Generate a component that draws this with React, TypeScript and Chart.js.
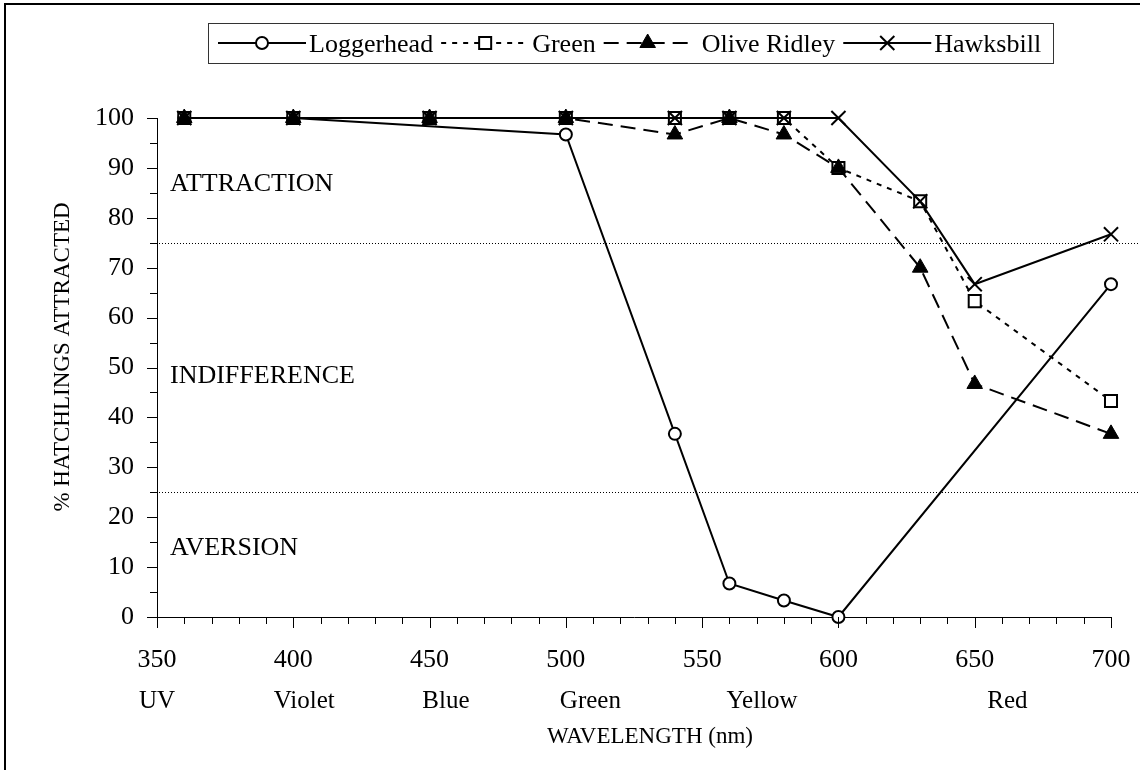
import React, { useEffect, useRef } from "react";
import { Chart, registerables } from "chart.js";

Chart.register(...registerables);

// ---- data ----
const wavelengths = [360, 400, 450, 500, 540, 560, 580, 600, 630, 650, 700];
const loggerhead = [100, 100, null, 96.7, 36.7, 6.7, 3.3, 0, null, null, 66.7];
const green = [100, 100, 100, 100, 100, 100, 100, 90, 83.3, 63.3, 43.3];
const oliveRidley = [100, 100, 100, 100, 96.7, 100, 96.7, 90, 70, 46.7, 36.7];
const hawksbill = [100, 100, 100, 100, 100, 100, 100, 100, 83.3, 66.7, 76.7];
const seriesNames = ["Loggerhead", "Green", "Olive Ridley", "Hawksbill"];

const xTickValues = [350, 400, 450, 500, 550, 600, 650, 700];
const yTickValues = [0, 10, 20, 30, 40, 50, 60, 70, 80, 90, 100];

const colorNames = ["UV", "Violet", "Blue", "Green", "Yellow", "Red"];
const colorNameAt = [350, 404, 456, 509, 572, 662];

const zoneNames = ["ATTRACTION", "INDIFFERENCE", "AVERSION"];
const zoneNameAt = [86.8, 48.3, 13.8];
const zoneThresholds = [75, 25];

const xTitle = "WAVELENGTH (nm)";
const yTitle = "% HATCHLINGS ATTRACTED";

const FONT = '"Liberation Serif", "Times New Roman", Times, serif';

function toPoints(values: (number | null)[]) {
  const out: { x: number; y: number }[] = [];
  values.forEach((v, i) => {
    if (v !== null) out.push({ x: wavelengths[i], y: v });
  });
  return out;
}

function drawMarker(ctx: CanvasRenderingContext2D, style: string, x: number, y: number, r: number, fill: string, bw: number) {
  ctx.save();
  ctx.setLineDash([]);
  ctx.strokeStyle = "#000";
  ctx.fillStyle = fill;
  ctx.lineWidth = bw;
  ctx.beginPath();
  if (style === "circle") {
    ctx.arc(x, y, r, 0, Math.PI * 2);
    ctx.fill();
    ctx.stroke();
  } else if (style === "rect") {
    const s = r * Math.SQRT1_2;
    ctx.rect(x - s, y - s, 2 * s, 2 * s);
    ctx.fill();
    ctx.stroke();
  } else if (style === "triangle") {
    let a = 0;
    ctx.moveTo(x + Math.sin(a) * r, y - Math.cos(a) * r);
    a += (2 * Math.PI) / 3;
    ctx.lineTo(x + Math.sin(a) * r, y - Math.cos(a) * r);
    a += (2 * Math.PI) / 3;
    ctx.lineTo(x + Math.sin(a) * r, y - Math.cos(a) * r);
    ctx.closePath();
    ctx.fill();
    ctx.stroke();
  } else if (style === "crossRot") {
    const d = r * Math.SQRT1_2;
    ctx.moveTo(x - d, y - d);
    ctx.lineTo(x + d, y + d);
    ctx.moveTo(x + d, y - d);
    ctx.lineTo(x - d, y + d);
    ctx.stroke();
  }
  ctx.restore();
}

const overlayPlugin = {
  id: "overlay",
  beforeDatasetsDraw(chart: any) {
    const { ctx, chartArea, scales } = chart;
    const y = scales.y;
    ctx.save();
    ctx.strokeStyle = "#000";
    ctx.lineWidth = 1;
    ctx.setLineDash([1, 2]);
    zoneThresholds.forEach((v) => {
      const py = Math.round(y.getPixelForValue(v)) + 0.5;
      ctx.beginPath();
      ctx.moveTo(chartArea.left + 2, py);
      ctx.lineTo(chart.width, py);
      ctx.stroke();
    });
    ctx.setLineDash([]);
    ctx.fillStyle = "#000";
    ctx.font = `26px ${FONT}`;
    ctx.textAlign = "left";
    ctx.textBaseline = "middle";
    zoneNames.forEach((n, i) => {
      ctx.fillText(n, chartArea.left + 13, y.getPixelForValue(zoneNameAt[i]));
    });
    ctx.restore();
  },
  afterDraw(chart: any) {
    const { ctx, chartArea, scales } = chart;
    const x = scales.x;
    const y = scales.y;
    ctx.save();
    ctx.strokeStyle = "#000";
    ctx.lineWidth = 1;
    ctx.setLineDash([]);
    // x ticks (major every 50, minor every 10)
    for (let v = 350; v <= 700; v += 10) {
      const px = Math.round(x.getPixelForValue(v)) + 0.5;
      const len = v % 50 === 0 ? 11 : 7;
      ctx.beginPath();
      ctx.moveTo(px, chartArea.bottom);
      ctx.lineTo(px, chartArea.bottom + len);
      ctx.stroke();
    }
    // y ticks (major every 10, minor every 5)
    for (let v = 0; v <= 100; v += 5) {
      const py = Math.round(y.getPixelForValue(v)) + 0.5;
      const len = v % 10 === 0 ? 10 : 7;
      ctx.beginPath();
      ctx.moveTo(chartArea.left - len, py);
      ctx.lineTo(chartArea.left, py);
      ctx.stroke();
    }
    // colour names under the axis
    ctx.fillStyle = "#000";
    ctx.font = `25px ${FONT}`;
    ctx.textAlign = "center";
    ctx.textBaseline = "middle";
    colorNames.forEach((n, i) => {
      ctx.fillText(n, x.getPixelForValue(colorNameAt[i]), 701);
    });
    // axis titles
    ctx.font = `23px ${FONT}`;
    ctx.fillText(xTitle, 650, 737);
    ctx.save();
    ctx.translate(63, 357);
    ctx.rotate(-Math.PI / 2);
    ctx.fillText(yTitle, 0, 0);
    ctx.restore();

    // legend
    const box = { left: 208, top: 23, right: 1053, bottom: 63 };
    ctx.strokeStyle = "#333";
    ctx.lineWidth = 1;
    ctx.strokeRect(box.left + 0.5, box.top + 0.5, box.right - box.left, box.bottom - box.top);
    const midY = (box.top + box.bottom) / 2;
    ctx.font = `26px ${FONT}`;
    ctx.textAlign = "left";
    ctx.textBaseline = "alphabetic";
    let cx = box.left + 10;
    const L = 88;
    chart.data.datasets.forEach((ds: any, i: number) => {
      ctx.save();
      ctx.strokeStyle = "#000";
      ctx.lineWidth = ds.borderWidth;
      ctx.setLineDash(ds.borderDash || []);
      ctx.beginPath();
      ctx.moveTo(cx, midY);
      ctx.lineTo(cx + L, midY);
      ctx.stroke();
      ctx.restore();
      drawMarker(ctx, ds.pointStyle, cx + L / 2, midY, ds.pointRadius, ds.pointBackgroundColor, ds.pointBorderWidth);
      const tx = cx + L + 3 + (i === 2 ? 7 : 0);
      ctx.fillStyle = "#000";
      ctx.fillText(ds.label, tx, box.bottom - 11);
      cx = tx + ctx.measureText(ds.label).width + 8;
    });
    ctx.restore();
  },
};

export default function App() {
  const canvasRef = useRef<HTMLCanvasElement | null>(null);

  useEffect(() => {
    if (!canvasRef.current) return;
    const common = {
      borderColor: "#000",
      borderWidth: 2,
      pointBorderColor: "#000",
      tension: 0,
      fill: false,
      clip: false as any,
    };
    const chart = new Chart(canvasRef.current, {
      type: "line",
      data: {
        datasets: [
          {
            ...common,
            label: seriesNames[0],
            data: toPoints(loggerhead),
            pointStyle: "circle",
            pointRadius: 6,
            pointBackgroundColor: "#fff",
            pointBorderWidth: 2,
            order: 3,
          },
          {
            ...common,
            label: seriesNames[1],
            data: toPoints(green),
            borderDash: [5, 6],
            pointStyle: "rect",
            pointRadius: 8.5,
            pointBackgroundColor: "#fff",
            pointBorderWidth: 2,
            order: 2,
          },
          {
            ...common,
            label: seriesNames[2],
            data: toPoints(oliveRidley),
            borderDash: [15, 8],
            pointStyle: "triangle",
            pointRadius: 9,
            pointBackgroundColor: "#000",
            pointBorderWidth: 1,
            order: 1,
          },
          {
            ...common,
            label: seriesNames[3],
            data: toPoints(hawksbill),
            pointStyle: "crossRot",
            pointRadius: 10,
            pointBackgroundColor: "#000",
            pointBorderWidth: 2,
            order: 0,
          },
        ] as any,
      },
      options: {
        responsive: false,
        animation: false,
        devicePixelRatio: 1,
        layout: { padding: { left: 0, top: 118, right: 29, bottom: 0 } },
        plugins: { legend: { display: false }, tooltip: { enabled: false } },
        scales: {
          x: {
            type: "linear",
            min: 350,
            max: 700,
            afterFit: (s: any) => {
              s.height = 153;
              s.paddingLeft = 0;
              s.paddingRight = 0;
            },
            afterBuildTicks: (s: any) => {
              s.ticks = xTickValues.map((v) => ({ value: v }));
            },
            ticks: {
              font: { family: FONT, size: 26 },
              color: "#000",
              padding: 28,
              maxRotation: 0,
              autoSkip: false,
            },
            grid: { display: false, drawTicks: false },
            border: { display: true, color: "#000", width: 1 },
          },
          y: {
            type: "linear",
            min: 0,
            max: 100,
            afterFit: (s: any) => {
              s.width = 157;
              s.paddingTop = 0;
              s.paddingBottom = 0;
            },
            afterBuildTicks: (s: any) => {
              s.ticks = yTickValues.map((v) => ({ value: v }));
            },
            ticks: {
              font: { family: FONT, size: 26 },
              color: "#000",
              padding: 23,
              autoSkip: false,
            },
            grid: { display: false, drawTicks: false },
            border: { display: true, color: "#000", width: 1 },
          },
        },
      } as any,
      plugins: [overlayPlugin],
    });
    return () => chart.destroy();
  }, []);

  return (
    <div
      style={{
        position: "absolute",
        left: 0,
        top: 0,
        width: 1140,
        height: 770,
        overflow: "hidden",
        background: "#fff",
      }}
    >
      <canvas ref={canvasRef} width={1140} height={770} style={{ position: "absolute", left: 0, top: 0 }} />
      <div
        style={{
          position: "absolute",
          left: 4,
          top: 3,
          width: 2000,
          height: 2000,
          borderLeft: "2px solid #000",
          borderTop: "2px solid #000",
          pointerEvents: "none",
        }}
      />
    </div>
  );
}
